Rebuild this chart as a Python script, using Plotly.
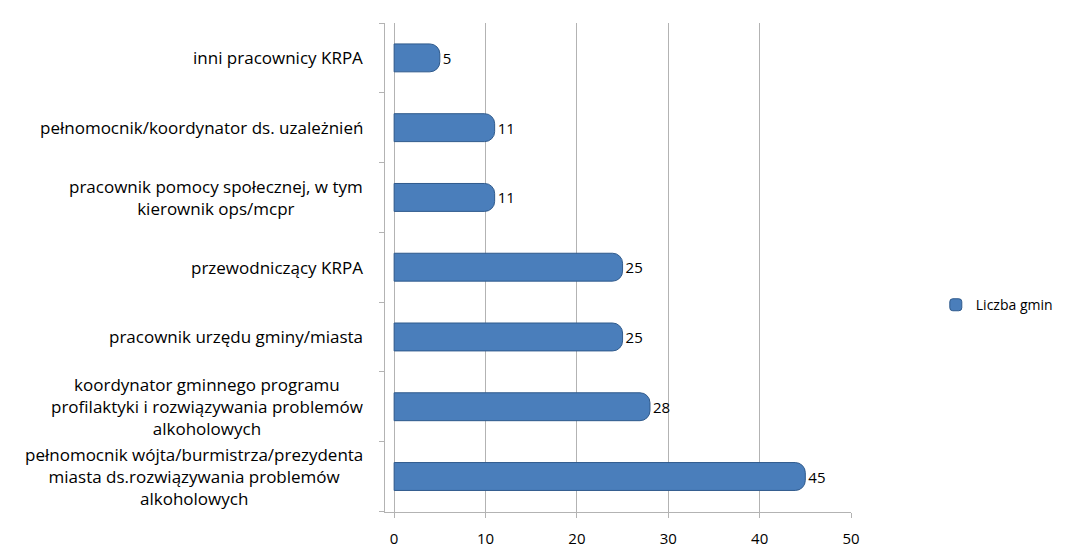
import plotly.graph_objects as go

categories = [
    "pełnomocnik wójta/burmistrza/prezydenta<br>miasta ds.rozwiązywania problemów<br>alkoholowych",
    "koordynator gminnego programu<br>profilaktyki i rozwiązywania problemów<br>alkoholowych",
    "pracownik urzędu gminy/miasta",
    "przewodniczący KRPA",
    "pracownik pomocy społecznej, w tym<br>kierownik ops/mcpr",
    "pełnomocnik/koordynator ds. uzależnień",
    "inni pracownicy KRPA",
]
values = [45, 28, 25, 25, 11, 11, 5]
series_name = "Liczba gmin"
x_ticks = [0, 10, 20, 30, 40, 50]

font_family = "Open Sans, Lato, DejaVu Sans, sans-serif"

fig = go.Figure()
fig.add_trace(go.Bar(
    y=categories,
    x=values,
    orientation="h",
    name=series_name,
    marker=dict(color="#4A7EBB", line=dict(color="#2F5A8C", width=1), cornerradius=10),
    text=[str(v) for v in values],
    textposition="outside",
    textfont=dict(size=15, color="#000000", family=font_family),
    cliponaxis=False,
))

annotations = []
for c in categories:
    annotations.append(dict(
        x=-0.042, xref="paper", y=c, yref="y",
        text=c, showarrow=False, xanchor="right", yanchor="middle",
        align="center", font=dict(size=17, color="#000000", family=font_family),
    ))

fig.update_layout(
    width=1062, height=543,
    margin=dict(l=377, r=212, t=15, b=39),
    paper_bgcolor="white", plot_bgcolor="white",
    bargap=0.6,
    showlegend=True,
    legend=dict(x=1.182, y=0.423, xanchor="left", yanchor="middle",
                itemwidth=30,
                font=dict(size=14, family=font_family, color="#000000"),
                bgcolor="rgba(0,0,0,0)"),
    annotations=annotations,
    font=dict(family=font_family),
)
fig.update_xaxes(
    range=[-1, 50], tickvals=x_ticks, ticktext=[str(t) for t in x_ticks],
    showgrid=True, gridcolor="#B3B3B3", gridwidth=1,
    showline=True, linecolor="#B3B3B3", ticks="outside", tickcolor="#B3B3B3",
    ticklen=5, ticklabelstandoff=8, automargin=False,
    tickfont=dict(size=15, color="#000000", family=font_family),
    zeroline=False,
)
fig.update_yaxes(
    showticklabels=False, showline=True, linecolor="#B3B3B3",
    ticks="outside", tickson="boundaries", ticklen=5, tickcolor="#B3B3B3",
    showgrid=False, automargin=False,
)

fig.write_html("out.html")
